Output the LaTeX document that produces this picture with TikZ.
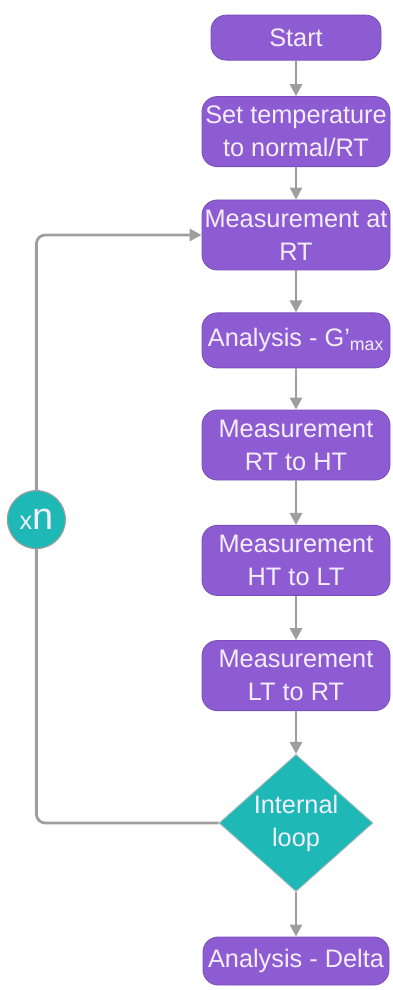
\documentclass[tikz,border=0pt]{standalone}
\usepackage{fontspec}
\setmainfont{Liberation Sans}
\usetikzlibrary{shapes.geometric,arrows.meta}

\definecolor{stepviolet}{RGB}{142,92,210}
\definecolor{stepedge}{RGB}{122,78,186}
\definecolor{loopteal}{RGB}{30,185,183}
\definecolor{linegrey}{RGB}{158,158,158}
\definecolor{textlilac}{RGB}{244,238,252}

\begin{document}
\begin{tikzpicture}[
			font=\fontsize{18}{23.5}\selectfont,
			box/.style={rectangle, rounded corners=0.38cm, draw=stepedge, line width=0.6pt, fill=stepviolet, text=textlilac, minimum width=4.7cm, minimum height=1.75cm, inner xsep=0.05cm, align=center},
			decision/.style={diamond, draw=linegrey!70, line width=0.6pt, fill=loopteal, text=textlilac, aspect=1.12, inner sep=0pt, minimum width=3.85cm, minimum height=3.43cm, align=center},
			counter/.style={circle, draw=linegrey, line width=0.8pt, fill=loopteal, text=textlilac, minimum size=1.45cm, inner sep=0pt},
			arrow/.style={-{Triangle[length=0.3cm, width=0.3cm]}, draw=linegrey, line width=2pt},
			line/.style={draw=linegrey, line width=2pt}
		]
		\useasboundingbox (0,0) rectangle (9.8,-24.75);

		% Main sequence
		\node[box, minimum width=4.25cm, minimum height=1.125cm] (start) at (7.4,-0.94) {Start};
		\node[box] (settemp) at (7.4,-3.29) {Set temperature\\to normal/RT};
		\node[box] (measrt) at (7.4,-5.875) {Measurement at\\RT};
		\node[box, minimum height=1.375cm] (gmax) at (7.4,-8.51) {Analysis - G’\textsubscript{max}};

		\draw[arrow] (start) -- (settemp);
		\draw[arrow] (settemp) -- (measrt);
		\draw[arrow] (measrt) -- (gmax);

		% Temperature ramps
		\node[box] (rtht) at (7.4,-11.125) {Measurement\\RT to HT};
		\node[box] (htlt) at (7.4,-14.01) {Measurement\\HT to LT};
		\node[box] (ltrt) at (7.4,-16.89) {Measurement\\LT to RT};

		\draw[arrow] (gmax) -- (rtht);
		\draw[arrow] (rtht) -- (htlt);
		\draw[arrow] (htlt) -- (ltrt);

		% Loop back and final analysis
		\node[decision] (inner) at (7.4,-20.575) {Internal\\loop};
		\node[box, minimum width=4.65cm, minimum height=1.2cm] (delta) at (7.4,-24.025) {Analysis - Delta};
		\node[counter] (repeat) at (0.91,-12.99) {x{\fontsize{27}{27}\selectfont n}};

		\draw[arrow] (ltrt) -- (inner);
		\draw[arrow] (inner) -- (delta);
		\draw[line, rounded corners=0.22cm] (inner.west) -| (repeat.south);
		\draw[arrow, rounded corners=0.22cm] (repeat.north) |- (measrt.west);

	\end{tikzpicture}
\end{document}
